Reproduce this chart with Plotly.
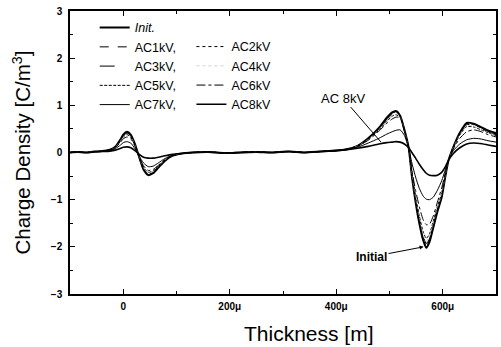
import plotly.graph_objects as go

# Thickness positions (micrometres) shared by all space-charge profiles
thickness = [-100, -85, -70, -55, -40,
             -25, -15, -5, 0, 7, 14, 22, 30, 38, 47, 56, 66, 78, 92, 110,
             130, 160, 190, 220, 250, 280, 310, 340, 370,
             400, 420, 440, 460, 480, 495, 505, 512, 520, 528,
             536, 542, 549, 556, 563, 569, 575, 582, 590, 598,
             605, 611, 620, 632, 645, 658, 670, 685, 700]

# Charge density profiles [C/m^3]
init = [0.00, 0.01, 0.00, 0.02, 0.03,
        0.06, 0.12, 0.28, 0.38, 0.44, 0.38, 0.18, -0.10, -0.36, -0.48, -0.44, -0.32, -0.18, -0.07, -0.02,
        0.00, 0.01, -0.01, 0.00, 0.01, 0.00, 0.02, 0.00, 0.02,
        0.04, 0.07, 0.14, 0.30, 0.52, 0.74, 0.85, 0.88, 0.78, 0.48,
        0.10, -0.50, -1.05, -1.50, -1.85, -2.02, -1.90, -1.60, -1.25, -0.95,
        -0.50, -0.16, 0.12, 0.42, 0.63, 0.61, 0.55, 0.47, 0.41]
ac1 = [0.00, 0.01, 0.00, 0.02, 0.03,
       0.06, 0.12, 0.27, 0.37, 0.43, 0.37, 0.17, -0.10, -0.35, -0.47, -0.43, -0.31, -0.18, -0.07, -0.02,
       0.00, 0.01, -0.01, 0.00, 0.01, 0.00, 0.02, 0.00, 0.02,
       0.04, 0.07, 0.14, 0.30, 0.51, 0.73, 0.84, 0.87, 0.78, 0.48,
       0.10, -0.49, -1.03, -1.48, -1.83, -2.00, -1.89, -1.59, -1.24, -0.94,
       -0.49, -0.16, 0.12, 0.41, 0.62, 0.60, 0.54, 0.46, 0.40]
ac2 = [0.00, 0.01, 0.00, 0.02, 0.03,
       0.06, 0.12, 0.27, 0.36, 0.42, 0.36, 0.17, -0.10, -0.34, -0.46, -0.42, -0.31, -0.17, -0.07, -0.02,
       0.00, 0.01, -0.01, 0.00, 0.01, 0.00, 0.02, 0.00, 0.02,
       0.04, 0.07, 0.14, 0.29, 0.50, 0.72, 0.83, 0.86, 0.78, 0.48,
       0.10, -0.48, -1.01, -1.45, -1.80, -1.97, -1.86, -1.57, -1.22, -0.92,
       -0.48, -0.16, 0.12, 0.40, 0.61, 0.59, 0.53, 0.45, 0.39]
ac3 = [0.00, 0.01, 0.00, 0.02, 0.03,
       0.05, 0.11, 0.26, 0.35, 0.41, 0.35, 0.16, -0.10, -0.33, -0.45, -0.41, -0.30, -0.17, -0.07, -0.02,
       0.00, 0.01, -0.01, 0.00, 0.01, 0.00, 0.02, 0.00, 0.02,
       0.04, 0.07, 0.14, 0.29, 0.49, 0.70, 0.81, 0.84, 0.77, 0.48,
       0.10, -0.47, -0.99, -1.42, -1.76, -1.93, -1.83, -1.54, -1.20, -0.90,
       -0.47, -0.16, 0.12, 0.39, 0.59, 0.58, 0.52, 0.44, 0.38]
ac4 = [0.00, 0.01, 0.00, 0.02, 0.03,
       0.05, 0.11, 0.25, 0.34, 0.40, 0.34, 0.16, -0.10, -0.32, -0.44, -0.40, -0.29, -0.16, -0.06, -0.02,
       0.00, 0.01, -0.01, 0.00, 0.01, 0.00, 0.02, 0.00, 0.02,
       0.04, 0.07, 0.14, 0.28, 0.48, 0.68, 0.79, 0.82, 0.76, 0.47,
       0.10, -0.46, -0.96, -1.38, -1.72, -1.88, -1.78, -1.50, -1.17, -0.88,
       -0.46, -0.16, 0.11, 0.38, 0.57, 0.56, 0.50, 0.43, 0.37]
ac5 = [0.00, 0.01, 0.00, 0.02, 0.03,
       0.05, 0.11, 0.24, 0.33, 0.38, 0.32, 0.15, -0.10, -0.31, -0.42, -0.39, -0.28, -0.16, -0.06, -0.02,
       0.00, 0.01, -0.01, 0.00, 0.01, 0.00, 0.02, 0.00, 0.02,
       0.04, 0.07, 0.13, 0.28, 0.47, 0.66, 0.77, 0.80, 0.75, 0.47,
       0.10, -0.44, -0.93, -1.34, -1.67, -1.82, -1.73, -1.46, -1.14, -0.86,
       -0.45, -0.16, 0.11, 0.37, 0.55, 0.54, 0.49, 0.42, 0.36]
ac6 = [0.00, 0.01, 0.00, 0.02, 0.03,
       0.05, 0.10, 0.22, 0.29, 0.33, 0.29, 0.13, -0.09, -0.28, -0.38, -0.36, -0.27, -0.15, -0.06, -0.02,
       0.00, 0.01, -0.01, 0.00, 0.01, 0.00, 0.02, 0.00, 0.02,
       0.04, 0.07, 0.13, 0.26, 0.45, 0.62, 0.71, 0.75, 0.74, 0.45,
       0.10, -0.38, -0.80, -1.15, -1.42, -1.53, -1.52, -1.35, -1.05, -0.75,
       -0.42, -0.16, 0.08, 0.30, 0.44, 0.48, 0.45, 0.38, 0.33]
ac7 = [0.00, 0.01, 0.00, 0.02, 0.02,
       0.04, 0.08, 0.16, 0.21, 0.23, 0.20, 0.08, -0.08, -0.22, -0.30, -0.29, -0.22, -0.13, -0.06, -0.02,
       0.00, 0.01, -0.01, 0.00, 0.01, 0.00, 0.02, 0.00, 0.02,
       0.04, 0.06, 0.11, 0.20, 0.30, 0.39, 0.44, 0.47, 0.48, 0.36,
       0.10, -0.22, -0.52, -0.76, -0.92, -0.99, -1.00, -0.95, -0.80, -0.60,
       -0.36, -0.16, 0.04, 0.18, 0.27, 0.30, 0.29, 0.25, 0.22]
ac8 = [0.00, 0.01, 0.00, 0.01, 0.02,
       0.03, 0.05, 0.09, 0.11, 0.12, 0.10, 0.04, -0.04, -0.10, -0.12, -0.12, -0.10, -0.07, -0.04, -0.02,
       0.00, 0.01, -0.01, 0.00, 0.01, 0.00, 0.02, 0.00, 0.02,
       0.04, 0.06, 0.09, 0.13, 0.18, 0.21, 0.22, 0.23, 0.22, 0.18,
       0.10, 0.00, -0.12, -0.25, -0.36, -0.44, -0.48, -0.49, -0.48, -0.42,
       -0.30, -0.16, -0.02, 0.10, 0.18, 0.20, 0.19, 0.16, 0.13]

# Axis ticks
x_tick_vals = [0, 200, 400, 600]
x_tick_text = ["0", "200\u03bc", "400\u03bc", "600\u03bc"]
y_tick_vals = [-3, -2, -1, 0, 1, 2, 3]

# (name, values, dash, width, colour, legend)
series = [
    ("<i>Init.</i>", init, "solid", 2.0, "#000000", "legend"),
    ("AC1kV,", ac1, "dash", 1.0, "#000000", "legend"),
    ("AC3kV,", ac3, "longdash", 1.0, "#000000", "legend"),
    ("AC5kV,", ac5, "3px,1.5px", 1.0, "#000000", "legend"),
    ("AC7kV,", ac7, "solid", 1.0, "#000000", "legend"),
    ("AC2kV", ac2, "dot", 1.0, "#000000", "legend2"),
    ("AC4kV", ac4, "dot", 0.6, "#b0b0b0", "legend2"),
    ("AC6kV", ac6, "dashdot", 1.0, "#000000", "legend2"),
    ("AC8kV", ac8, "solid", 1.6, "#000000", "legend2"),
]

fig = go.Figure()
for name, vals, dash, width, color, leg in series:
    fig.add_trace(go.Scatter(
        x=thickness, y=vals, mode="lines", name=name, legend=leg,
        line=dict(color=color, width=width, dash=dash, shape="spline", smoothing=0.6),
    ))

font_family = "Liberation Sans, Arial, sans-serif"
axis_common = dict(
    showline=True, linecolor="black", linewidth=1.5, mirror="allticks",
    ticks="inside", ticklen=5, tickwidth=1, tickcolor="black",
    showgrid=False, zeroline=False,
    tickfont=dict(family=font_family, size=10, color="black", weight="bold"),
)

legend_font = dict(size=12.5, family=font_family)

fig.update_layout(
    width=501, height=347,
    margin=dict(l=70, r=3, t=11, b=53),
    paper_bgcolor="white", plot_bgcolor="white",
    font=dict(family=font_family, color="black"),
    xaxis=dict(range=[-100, 700], tickvals=x_tick_vals, ticktext=x_tick_text,
               minor=dict(dtick=100, tick0=0, ticks="inside", ticklen=3, tickcolor="black"),
               ticklabelstandoff=2, **axis_common),
    yaxis=dict(range=[-3, 3], tickvals=y_tick_vals,
               minor=dict(dtick=0.5, tick0=0, ticks="inside", ticklen=3, tickcolor="black"),
               ticklabelstandoff=4, **axis_common),
    legend=dict(x=0.058, y=0.993, xanchor="left", yanchor="top",
                bgcolor="rgba(0,0,0,0)", font=legend_font,
                tracegroupgap=0, itemclick=False),
    legend2=dict(x=0.285, y=0.926, xanchor="left", yanchor="top",
                 bgcolor="rgba(0,0,0,0)", font=legend_font,
                 tracegroupgap=0, itemclick=False),
    showlegend=True,
)

# Axis titles
fig.add_annotation(text="Thickness [m]", xref="paper", yref="paper",
                   x=(310 - 70) / 428, y=-0.138, xanchor="center", yanchor="middle",
                   showarrow=False, font=dict(size=21, family=font_family))
fig.add_annotation(text="Charge Density [C/m<sup>3</sup>]", xref="paper", yref="paper",
                   x=-0.115, y=0.5, xanchor="center", yanchor="middle", textangle=-90,
                   showarrow=False, font=dict(size=20.5, family=font_family))

# Callouts
fig.add_annotation(text="AC 8kV", x=484, y=0.22, ax=-38, ay=-44,
                   showarrow=True, arrowhead=0, arrowwidth=1, arrowcolor="black",
                   font=dict(size=13, family=font_family))
fig.add_annotation(text="<b>Initial</b>", x=564, y=-2.0, ax=-52, ay=10,
                   showarrow=True, arrowhead=2, arrowsize=0.8, arrowwidth=1, arrowcolor="black",
                   font=dict(size=12, family=font_family))

fig.write_html("out.html")
